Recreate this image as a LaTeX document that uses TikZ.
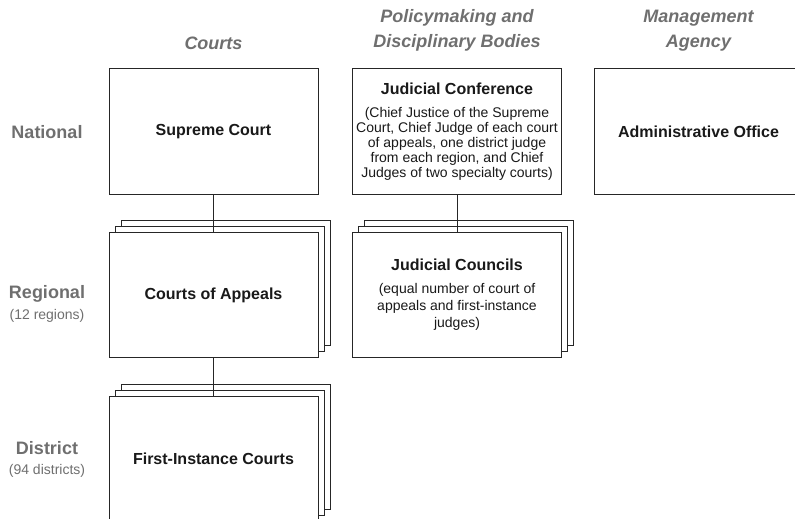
\documentclass[tikz,border=0pt]{standalone}
\usepackage{fontspec}
\setmainfont{Liberation Sans}
\usepackage{xcolor}
\usetikzlibrary{positioning,shadows}
\definecolor{headgray}{HTML}{6F6F6F}
\definecolor{boxline}{HTML}{262626}
\newcommand{\titlefont}{\fontsize{16}{19}\selectfont\bfseries}
\newcommand{\notefont}{\fontsize{14}{15}\selectfont}

\begin{document}
\begin{tikzpicture}[x=1pt,y=-1pt,
  box/.style={draw=boxline,fill=white,line width=1pt,minimum width=209pt,minimum height=125pt,
    inner sep=0pt,align=center,font=\titlefont,text=black!90},
  stack/.style={box,copy shadow={shadow xshift=12pt,shadow yshift=12pt},
    copy shadow={shadow xshift=6pt,shadow yshift=6pt}},
  colhead/.style={font=\fontsize{18}{25}\selectfont\bfseries\itshape,text=headgray,align=center},
  rowhead/.style={font=\fontsize{18}{22}\selectfont\bfseries,text=headgray},
  rowsub/.style={font=\fontsize{14}{16}\selectfont,text=headgray},
  link/.style={draw=boxline,line width=1pt}]
  \useasboundingbox (0,0) rectangle (795,519);
  \clip (0,0) rectangle (795,519);
  % column headings
  \node[colhead] (hcourts) at (213.5,43) {Courts};
  \node[colhead] (hpolicy) at (457,30.5) {Policymaking and\\Disciplinary Bodies};
  \node[colhead] (hagency) at (698.5,30.5) {Management\\Agency};
  % row headings
  \node[rowhead] (national) at (47,132) {National};
  \node[rowhead] (regional) at (47,294) {Regional};
  \node[rowsub] (regionsub) at (47,316) {(12 regions)};
  \node[rowhead] (district) at (47,448) {District};
  \node[rowsub] (districtsub) at (47,471) {(94 districts)};
  % national level
  \node[box] (supreme) at (213.5,131.5) {Supreme Court};
  \node[box,font=\notefont] (conf) at (457,131.5) {{\titlefont Judicial Conference}\\[8pt]
    (Chief Justice of the Supreme\\Court, Chief Judge of each court\\of appeals, one district judge\\
    from each region, and Chief\\Judges of two specialty courts)};
  \node[box] (admin) at (698.5,131.5) {Administrative Office};
  % regional and district level
  \node[stack] (appeals) at (213.5,295) {Courts of Appeals};
  \node[stack,font=\fontsize{14}{17}\selectfont] (councils) at (457,295) {{\titlefont Judicial Councils}\\[6pt]
    (equal number of court of\\appeals and first-instance\\judges)};
  \node[stack] (first) at (213.5,459) {First-Instance Courts};
  % connectors
  \draw[link] (supreme) -- (appeals);
  \draw[link] (appeals) -- (first);
  \draw[link] (conf) -- (councils);
\end{tikzpicture}
\end{document}
